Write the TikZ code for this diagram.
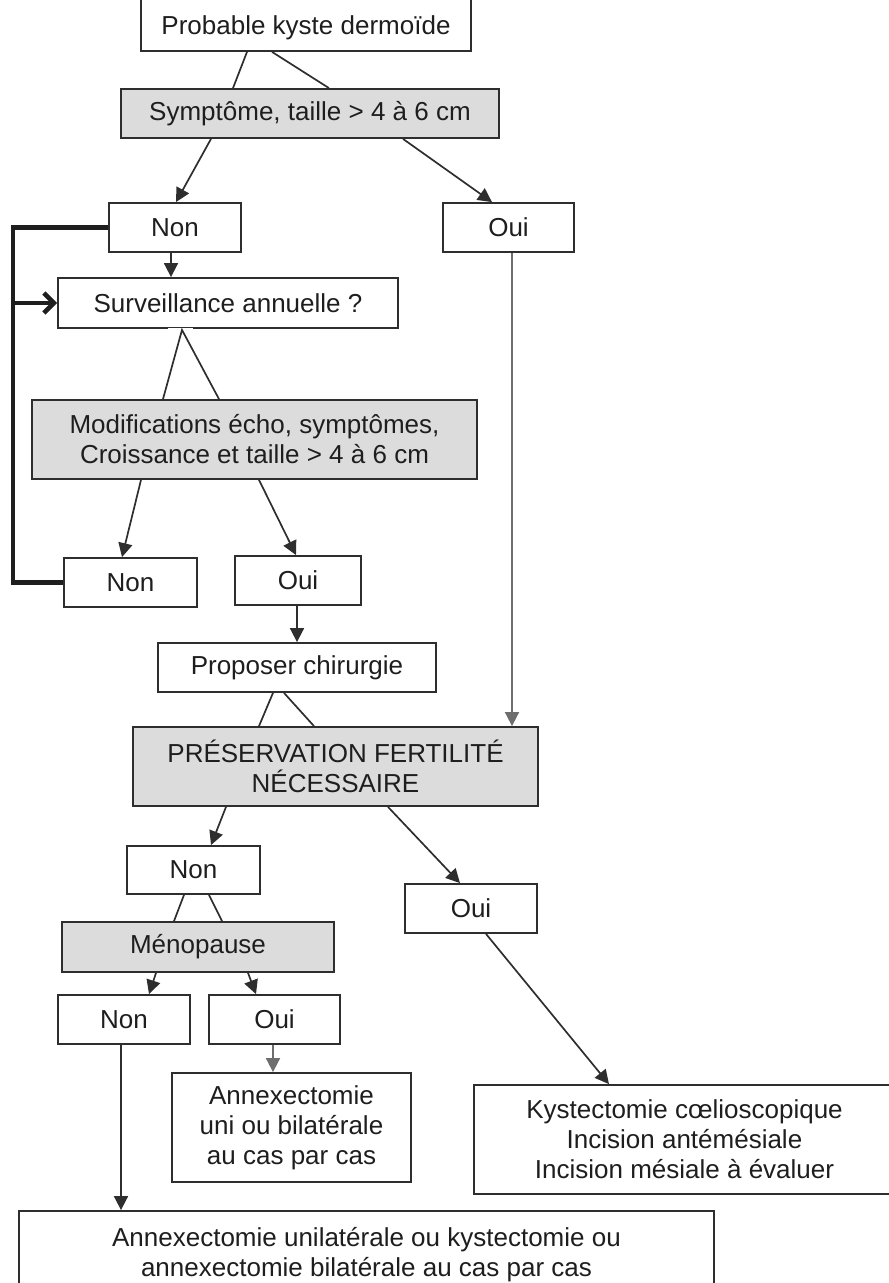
\documentclass[tikz,border=0pt]{standalone}
\usepackage{fontspec}
\setmainfont{Liberation Sans}
\usetikzlibrary{arrows.meta}
\definecolor{boxgray}{HTML}{DCDCDC}
\definecolor{linecol}{HTML}{2E2E2E}
\definecolor{txtcol}{HTML}{1E1E1E}
\definecolor{lightline}{HTML}{6E6E6E}
\tikzset{
  box/.style={draw=linecol, line width=1.8pt, fill=white, inner sep=0pt, align=center,
    text=txtcol, font=\fontsize{26}{30}\selectfont},
  graybox/.style={box, fill=boxgray},
  link/.style={draw=linecol, line width=1.7pt},
  arr/.style={link, -{Triangle[length=14pt,width=14pt]}},
  grayarr/.style={arr, draw=lightline},
  loopline/.style={draw=txtcol, line width=4.5pt},
}
\begin{document}
\begin{tikzpicture}[x=1pt,y=-1pt]
\useasboundingbox (0,0) rectangle (889,1283);
% nodes
\node[box, minimum width=330, minimum height=63] (A) at (306,19.5) {\raisebox{-8pt}[\height][\depth]{Probable kyste dermoïde}};
\node[graybox, minimum width=378, minimum height=49] (B) at (310,113.5) {Symptôme, taille > 4 à 6 cm};
\node[box, minimum width=132, minimum height=49] (C) at (175,227.5) {Non};
\node[box, minimum width=131, minimum height=49] (D) at (508.5,227.5) {Oui};
\node[box, minimum width=340, minimum height=50] (E) at (228,303) {Surveillance annuelle ?};
\node[graybox, minimum width=445, minimum height=79] (F) at (254.5,439.5) {Modifications écho, symptômes,\\Croissance et taille > 4 à 6 cm};
\node[box, minimum width=133, minimum height=49] (G) at (130.5,582.5) {Non};
\node[box, minimum width=126, minimum height=49] (H) at (298,580.5) {Oui};
\node[box, minimum width=278, minimum height=49] (I) at (297,667.5) {Proposer chirurgie};
\node[graybox, minimum width=405, minimum height=79] (J) at (335.5,766.5) {PRÉSERVATION FERTILITÉ\\NÉCESSAIRE};
\node[box, minimum width=133, minimum height=48] (K) at (193.5,870) {Non};
\node[box, minimum width=132, minimum height=49] (L) at (471,908.5) {Oui};
\node[graybox, minimum width=272, minimum height=50] (M) at (198,947) {Ménopause};
\node[box, minimum width=132, minimum height=49] (N) at (124,1019.5) {Non};
\node[box, minimum width=131, minimum height=49] (O) at (274.5,1019.5) {Oui};
\node[box, minimum width=239, minimum height=109] (P) at (291.5,1127.5) {Annexectomie\\uni ou bilatérale\\au cas par cas};
\node[box, minimum width=421, minimum height=109] (Q) at (684.5,1139.5) {Kystectomie cœlioscopique\\Incision antémésiale\\Incision mésiale à évaluer};
\node[box, minimum width=695, minimum height=88] (R) at (366.5,1255) {Annexectomie unilatérale ou kystectomie ou\\annexectomie bilatérale au cas par cas};
% gap in the bottom border of E
\draw[white, line width=2.8pt] ([xshift=-60]E.south) -- ([xshift=-35]E.south);
% connectors
\draw[link] ([xshift=-59]A.south) -- ([xshift=-77]B.north);
\draw[link] ([xshift=-34]A.south) -- ([xshift=19]B.north);
\draw[arr] ([xshift=-99]B.south) -- ([xshift=1]C.north);
\draw[arr] ([xshift=93]B.south) -- ([xshift=-16.5]D.north);
\draw[arr] ([xshift=-4]C.south) -- ([xshift=-57]E.north);
\draw[link] ([xshift=-91.5]F.north) -- ([xshift=-46,yshift=-1]E.south) -- ([xshift=-35.5]F.north);
\draw[arr] ([xshift=-113.5]F.south) -- ([xshift=-8.5]G.north);
\draw[arr] ([xshift=4.5]F.south) -- ([xshift=-2]H.north);
\draw[arr] ([xshift=-1]H.south) -- ([xshift=0]I.north);
\draw[grayarr] ([xshift=3.5]D.south) -- ([xshift=176.5]J.north);
\draw[link] ([xshift=-24]I.south) -- ([xshift=-76.5]J.north);
\draw[link] ([xshift=-13]I.south) -- ([xshift=-21.5]J.north);
\draw[arr] ([xshift=-109.5]J.south) -- ([xshift=17.5]K.north);
\draw[arr] ([xshift=52.5]J.south) -- ([xshift=-11]L.north);
\draw[link] ([xshift=-9.5]K.south) -- ([xshift=-24]M.north);
\draw[link] ([xshift=15.5]K.south) -- ([xshift=24]M.north);
\draw[arr] ([xshift=-42]M.south) -- ([xshift=25]N.north);
\draw[arr] ([xshift=50]M.south) -- ([xshift=-18.5]O.north);
\draw[grayarr] ([xshift=-1.5]O.south) -- ([xshift=-18.5]P.north);
\draw[arr] ([xshift=-3]N.south) -- ([xshift=-245.5]R.north);
\draw[arr] ([xshift=15]L.south) -- ([xshift=-75.5]Q.north);
% feedback loop
\coordinate (LX) at (13,226);
\draw[loopline, line join=miter] (C.west) -- (C.west -| LX) |- (G.west);
\draw[loopline, -{Straight Barb[length=10pt,width=20pt,line width=4.5pt]}] (E.west -| LX) -- (E.west);
\end{tikzpicture}
\end{document}
